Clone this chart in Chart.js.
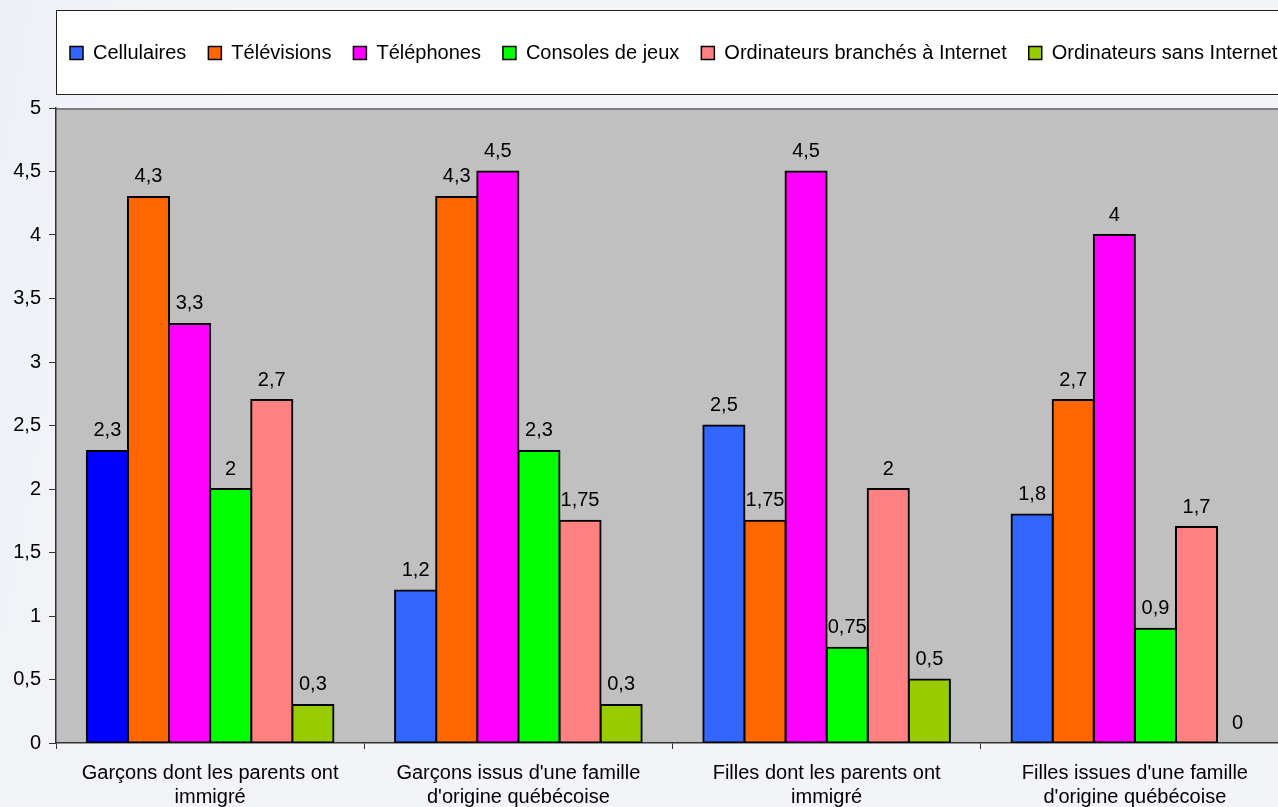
<!DOCTYPE html>
<html lang="fr">
<head>
<meta charset="utf-8">
<title>Appareils à la maison</title>
<script src="https://cdn.jsdelivr.net/npm/chart.js@4.4.1/dist/chart.umd.min.js"></script>
<style>
  html, body { margin: 0; padding: 0; }
  body {
    width: 1278px; height: 807px; overflow: hidden;
    background: linear-gradient(100deg, #edf0f7 0%, #f1f3f7 10%, #f3f4f8 30%, #f3f4f8 100%);
  }
  .cadre { width: 1340px; height: 807px; position: relative; }
</style>
</head>
<body>
<div class="cadre"><canvas id="graphique"></canvas></div>
<script>
// les données du graphique
let categories = [
  ['Garçons dont les parents ont', 'immigré'],
  ["Garçons issus d'une famille", "d'origine québécoise"],
  ['Filles dont les parents ont', 'immigré'],
  ["Filles issues d'une famille", "d'origine québécoise"]
]
let series = ['Cellulaires', 'Télévisions', 'Téléphones', 'Consoles de jeux', 'Ordinateurs branchés à Internet', 'Ordinateurs sans Internet']
let cellulaires = [2.3, 1.2, 2.5, 1.8]
let televisions = [4.3, 4.3, 1.75, 2.7]
let telephones = [3.3, 4.5, 4.5, 4]
let consoles = [2, 2.3, 0.75, 0.9]
let ordiInternet = [2.7, 1.75, 2, 1.7]
let ordiSansInternet = [0.3, 0.3, 0.5, 0]
let yTicks = [0, 0.5, 1, 1.5, 2, 2.5, 3, 3.5, 4, 4.5, 5]

let valeurs = [cellulaires, televisions, telephones, consoles, ordiInternet, ordiSansInternet]
let couleurs = ['#3366FF', '#FF6600', '#FF00FF', '#00FF00', '#FF8080', '#99CC00']

function virgule(v) {
  return String(v).replace('.', ',')
}

Chart.defaults.font.family = 'Liberation Sans, Arial, sans-serif'
Chart.defaults.font.size = 20
Chart.defaults.color = '#000'

let datasets = []
for (let i = 0; i < series.length; i++) {
  let couleur = couleurs[i]
  // la première barre bleue est plus foncée
  if (i === 0) {
    couleur = (c) => (c.type === 'data' && c.dataIndex === 0) ? '#0000FF' : '#3366FF'
  }
  datasets.push({
    label: series[i],
    data: valeurs[i],
    backgroundColor: couleur,
    borderColor: '#000',
    borderWidth: 2,
    borderSkipped: false,
    inflateAmount: (c) => c.raw === 0 ? 0 : 1
  })
}

// fond gris de la zone de tracé et cadre blanc de la légende
let fonds = {
  id: 'fonds',
  afterLayout(chart) {
    chart.legend.left = 48
    chart.legend.top = 21
  },
  beforeDraw(chart) {
    let ctx = chart.ctx
    let a = chart.chartArea
    ctx.save()
    ctx.fillStyle = '#fff'
    ctx.fillRect(56.5, 10.5, 1300, 84)
    ctx.strokeStyle = '#222'
    ctx.lineWidth = 1
    ctx.strokeRect(56.5, 10.5, 1300, 84)
    ctx.fillStyle = '#C0C0C0'
    ctx.fillRect(a.left, a.top, a.right - a.left, a.bottom - a.top)
    ctx.strokeStyle = '#808080'
    ctx.lineWidth = 2
    ctx.beginPath()
    ctx.moveTo(a.left, a.top + 1)
    ctx.lineTo(a.right, a.top + 1)
    ctx.stroke()
    ctx.restore()
  }
}

// étiquettes des valeurs au-dessus des barres
let etiquettes = {
  id: 'etiquettes',
  afterDatasetsDraw(chart) {
    let ctx = chart.ctx
    ctx.save()
    ctx.font = '20px Liberation Sans, Arial, sans-serif'
    ctx.fillStyle = '#000'
    ctx.textAlign = 'center'
    ctx.textBaseline = 'middle'
    chart.data.datasets.forEach((ds, i) => {
      let meta = chart.getDatasetMeta(i)
      meta.data.forEach((bar, j) => {
        ctx.fillText(virgule(ds.data[j]), bar.x, bar.y - 20)
      })
    })
    ctx.restore()
  }
}

new Chart(document.getElementById('graphique'), {
  type: 'bar',
  data: { labels: categories, datasets: datasets },
  plugins: [fonds, etiquettes],
  options: {
    responsive: true,
    maintainAspectRatio: false,
    animation: false,
    layout: { padding: { top: 56, right: 0, left: 0, bottom: 0 } },
    datasets: { bar: { categoryPercentage: 0.8, barPercentage: 1 } },
    plugins: {
      tooltip: { enabled: false },
      legend: {
        position: 'top',
        align: 'start',
        labels: {
          boxWidth: 13,
          boxHeight: 13,
          padding: 22,
          color: '#000',
          font: { size: 20 },
          generateLabels(chart) {
            let items = Chart.defaults.plugins.legend.labels.generateLabels(chart)
            items.forEach((it, k) => {
              it.fillStyle = couleurs[k]
              it.lineWidth = 1.5
              it.strokeStyle = '#000'
            })
            return items
          }
        }
      }
    },
    scales: {
      x: {
        grid: { offset: true, drawOnChartArea: false, drawTicks: true, tickLength: 6, color: '#333' },
        border: { display: true, color: '#333', width: 1.5 },
        ticks: { padding: 12, font: { size: 20, lineHeight: 1.2 }, color: '#000', maxRotation: 0, autoSkip: false },
        afterFit(scale) { scale.height = 64 }
      },
      y: {
        min: 0,
        max: 5,
        afterBuildTicks(scale) { scale.ticks = yTicks.map(v => ({ value: v })) },
        grid: { drawOnChartArea: false, drawTicks: true, tickLength: 7, color: '#333' },
        border: { display: true, color: '#333', width: 1.5 },
        ticks: { padding: 8, font: { size: 20 }, color: '#000', callback: (v) => virgule(v) },
        afterFit(scale) { scale.width = 56 }
      },
      // axe vide à droite, seulement pour réserver la marge hors écran
      marge: {
        type: 'linear',
        position: 'right',
        grid: { display: false },
        border: { display: false },
        ticks: { display: false },
        afterFit(scale) { scale.width = 51 }
      }
    }
  }
})
</script>
</body>
</html>
